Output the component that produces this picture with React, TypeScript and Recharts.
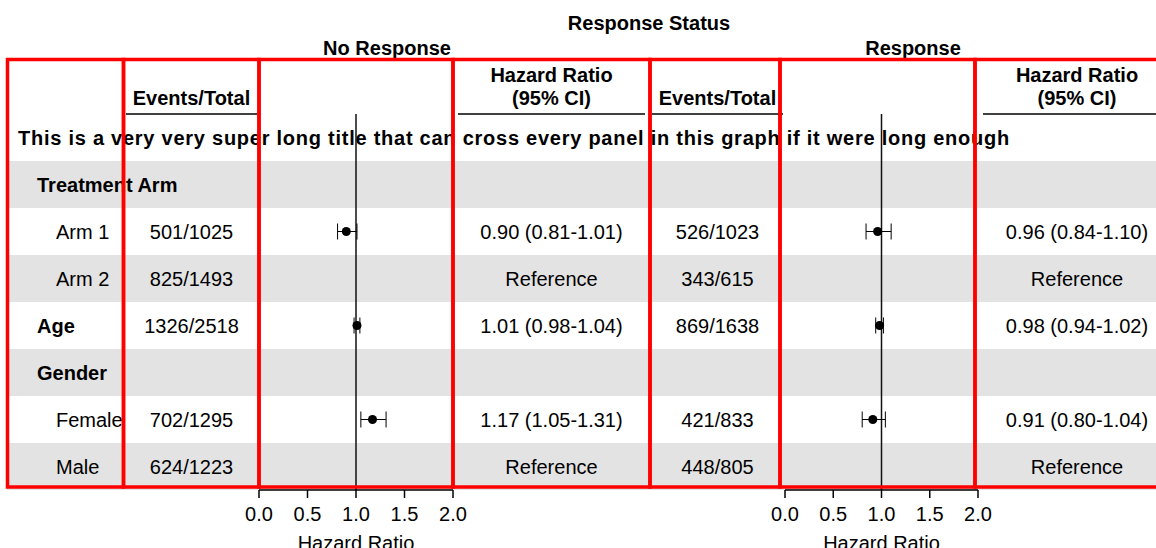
import {
  ComposedChart,
  Scatter,
  ErrorBar,
  XAxis,
  YAxis,
  ReferenceLine,
  ReferenceArea,
} from "recharts";

// table rows (the title row sits above these)
const rowLabels = ["Treatment Arm", "Arm 1", "Arm 2", "Age", "Gender", "Female", "Male"];
const groupRows = [true, false, false, true, true, false, false];
const shadedRows = [true, false, true, false, true, false, true];
const referenceRows = [false, false, true, false, false, false, true];

const noRespEvents = ["", "501/1025", "825/1493", "1326/2518", "", "702/1295", "624/1223"];
const noRespHR = [null, 0.9, null, 1.01, null, 1.17, null];
const noRespLo = [null, 0.81, null, 0.98, null, 1.05, null];
const noRespHi = [null, 1.01, null, 1.04, null, 1.31, null];

const respEvents = ["", "526/1023", "343/615", "869/1638", "", "421/833", "448/805"];
const respHR = [null, 0.96, null, 0.98, null, 0.91, null];
const respLo = [null, 0.84, null, 0.94, null, 0.8, null];
const respHi = [null, 1.1, null, 1.02, null, 1.04, null];

const hrTicks = [0, 0.5, 1, 1.5, 2];
const longTitle =
  "This is a very very super long title that can cross every panel in this graph if it were long enough";

const W = 1156;
const H = 548;
const CHART_H = 560;
const TOP = 114;
const ROW_H = 47;
const PLOT_BOTTOM = TOP + (rowLabels.length + 1) * ROW_H;
const FONT = "'Liberation Sans', Arial, Helvetica, sans-serif";
const FS = 20;

const yDomain: [number, number] = [-1, rowLabels.length];
const rowTicks = rowLabels.map((_, i) => i + 0.5);

const fmt = (v: number) => v.toFixed(2);

type PanelProps = {
  left: number;
  labelW: number;
  evW: number;
  plotW: number;
  hrW: number;
  events: string[];
  hr: (number | null)[];
  lo: (number | null)[];
  hi: (number | null)[];
};

function Panel(p: PanelProps) {
  const rows = rowLabels.map((label, i) => ({
    row: i + 0.5,
    label,
    events: p.events[i],
    hr: p.hr[i],
    text:
      p.hr[i] != null
        ? `${fmt(p.hr[i] as number)} (${fmt(p.lo[i] as number)}-${fmt(p.hi[i] as number)})`
        : referenceRows[i]
        ? "Reference"
        : "",
  }));
  const points = rows
    .map((r, i) => ({ ...r, lo: p.lo[i], hi: p.hi[i] }))
    .filter((r) => r.hr != null)
    .map((r) => ({ ...r, err: [(r.hr as number) - (r.lo as number), (r.hi as number) - (r.hr as number)] }));

  const width = p.labelW + p.evW + p.plotW + p.hrW;

  const LabelTick = (t: any) => {
    const i = Math.floor(t.payload.value);
    const group = groupRows[i];
    return (
      <text
        x={t.x - p.labelW + (group ? 37 : 56)}
        y={t.y}
        dy="0.355em"
        fontSize={FS}
        fontWeight={group ? "bold" : "normal"}
        fill="#000"
      >
        {rowLabels[i]}
      </text>
    );
  };

  const EventsTick = (t: any) => {
    const i = Math.floor(t.payload.value);
    return (
      <text x={t.x - p.evW / 2} y={t.y} dy="0.355em" textAnchor="middle" fontSize={FS} fill="#000">
        {rows[i].events}
      </text>
    );
  };

  const HrTick = (t: any) => {
    const i = Math.floor(t.payload.value);
    return (
      <text x={t.x + p.hrW / 2} y={t.y} dy="0.355em" textAnchor="middle" fontSize={FS} fill="#000">
        {rows[i].text}
      </text>
    );
  };

  return (
    <div style={{ position: "absolute", left: p.left, top: 0 }}>
      <ComposedChart
        width={width}
        height={CHART_H}
        data={rows}
        margin={{ top: TOP, right: 0, bottom: 0, left: 0 }}
      >
        <XAxis
          dataKey="hr"
          type="number"
          domain={[0, 2]}
          ticks={hrTicks}
          tickFormatter={(v: number) => v.toFixed(1)}
          height={CHART_H - PLOT_BOTTOM}
          axisLine={{ stroke: "#000", strokeWidth: 1.5 }}
          tickLine={{ stroke: "#000", strokeWidth: 1.5 }}
          tickSize={8}
          tickMargin={9}
          tick={{ fill: "#000", fontSize: FS }}
          label={{ value: "Hazard Ratio", position: "insideTop", offset: 46, fill: "#000", fontSize: FS }}
        />
        <YAxis
          yAxisId="ev"
          dataKey="row"
          type="number"
          domain={yDomain}
          reversed
          ticks={rowTicks}
          interval={0}
          width={p.evW}
          axisLine={false}
          tickLine={false}
          tickSize={0}
          tickMargin={0}
          tick={EventsTick}
        />
        {p.labelW > 0 && (
          <YAxis
            yAxisId="label"
            dataKey="row"
            type="number"
            domain={yDomain}
            reversed
            ticks={rowTicks}
            interval={0}
            width={p.labelW}
            axisLine={false}
            tickLine={false}
            tickSize={0}
            tickMargin={0}
            tick={LabelTick}
          />
        )}
        <YAxis
          yAxisId="hr"
          orientation="right"
          dataKey="row"
          type="number"
          domain={yDomain}
          reversed
          ticks={rowTicks}
          interval={0}
          width={p.hrW}
          axisLine={false}
          tickLine={false}
          tickSize={0}
          tickMargin={0}
          tick={HrTick}
        />
        <ReferenceLine yAxisId="ev" x={1} stroke="#111" strokeWidth={1.5} />
        <Scatter yAxisId="ev" data={points} dataKey="row" fill="#000" isAnimationActive={false}>
          <ErrorBar dataKey="err" direction="x" width={8} stroke="#000" strokeWidth={1} />
        </Scatter>
      </ComposedChart>
    </div>
  );
}

// alternating row shading and the spanning title, behind both panels
function Background() {
  const rows = rowLabels.map((label, i) => ({ row: i + 0.5, label }));
  return (
    <div style={{ position: "absolute", left: 0, top: 0 }}>
      <ComposedChart
        width={1176}
        height={CHART_H}
        data={rows}
        margin={{ top: TOP, right: 0, bottom: CHART_H - PLOT_BOTTOM, left: 7 }}
      >
        <XAxis type="number" domain={[0, 1]} hide />
        <YAxis dataKey="row" type="number" domain={yDomain} reversed hide />
        {shadedRows.map((s, i) =>
          s ? (
            <ReferenceArea key={i} y1={i} y2={i + 1} fill="#e3e3e3" fillOpacity={1} stroke="none" />
          ) : null
        )}
        <ReferenceArea
          y1={-1}
          y2={0}
          fill="none"
          stroke="none"
          label={{
            value: longTitle,
            position: "insideLeft",
            offset: 11,
            fill: "#000",
            fontSize: FS,
            fontWeight: "bold",
            style: { letterSpacing: "0.75px" },
          }}
        />
      </ComposedChart>
    </div>
  );
}

const panels = [
  { name: "No Response", left: 0, labelW: 124, evW: 135, plotW: 194, hrW: 197 },
  { name: "Response", left: 650, labelW: 0, evW: 135, plotW: 193, hrW: 198 },
];

const gridCols = [7.5, 123.5, 259, 453, 650, 780, 975, 1172];

function Overlay() {
  return (
    <svg
      width={W}
      height={H}
      style={{ position: "absolute", left: 0, top: 0 }}
      fontFamily={FONT}
      fontSize={FS}
    >
      <text x={649} y={30} textAnchor="middle" fontWeight="bold" fill="#000">
        Response Status
      </text>
      {panels.map((pn) => {
        const ev = pn.left + pn.labelW;
        const hr = ev + pn.evW + pn.plotW;
        const right = hr + pn.hrW;
        return (
          <g key={pn.name} fontWeight="bold" fill="#000">
            <text x={(ev + right) / 2} y={55} textAnchor="middle">
              {pn.name}
            </text>
            <text x={ev + pn.evW / 2} y={105} textAnchor="middle">
              Events/Total
            </text>
            <text x={hr + pn.hrW / 2} y={82} textAnchor="middle">
              Hazard Ratio
            </text>
            <text x={hr + pn.hrW / 2} y={105} textAnchor="middle">
              (95% CI)
            </text>
            <line x1={ev + 2} x2={ev + pn.evW - 2} y1={114} y2={114} stroke="#000" strokeWidth={1.5} />
            <line x1={hr + 5} x2={right - 5} y1={114} y2={114} stroke="#000" strokeWidth={1.5} />
          </g>
        );
      })}
      {gridCols.slice(0, -1).map((x, i) => (
        <rect
          key={i}
          x={x}
          y={59.5}
          width={gridCols[i + 1] - x}
          height={487 - 59.5}
          fill="none"
          stroke="#ff0000"
          strokeWidth={3.5}
        />
      ))}
    </svg>
  );
}

export default function App() {
  return (
    <div
      style={{
        position: "absolute",
        left: 0,
        top: 0,
        width: W,
        height: H,
        overflow: "hidden",
        background: "#fff",
        fontFamily: FONT,
      }}
    >
      <Background />
      <Panel {...panels[0]} events={noRespEvents} hr={noRespHR} lo={noRespLo} hi={noRespHi} />
      <Panel {...panels[1]} events={respEvents} hr={respHR} lo={respLo} hi={respHi} />
      <Overlay />
    </div>
  );
}
